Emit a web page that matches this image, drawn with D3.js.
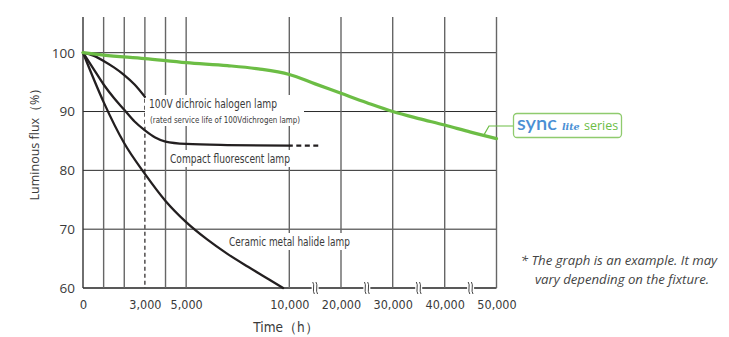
<!DOCTYPE html>
<html>
<head>
<meta charset="utf-8">
<script src="https://cdn.jsdelivr.net/npm/d3@7"></script>
<style>
  body { margin: 0; background: #fff; }
  svg { display: block; }
  .narrow { font-family: "Liberation Sans Narrow", "DejaVu Sans Condensed", "Liberation Sans", sans-serif; }
</style>
</head>
<body>
<div id="chart"></div>
<script>
// values
var xTickHours = [0, 3000, 5000, 10000, 20000, 30000, 40000, 50000];
var xTickLabels = ['0', '3,000', '5,000', '10,000', '20,000', '30,000', '40,000', '50,000'];
var gridHours = [1000, 2000, 4000, 5000, 10000, 20000, 30000, 40000, 50000];
var breakHours = [15000, 25000, 35000, 45000];
var yTicks = [60, 70, 80, 90, 100];

var syncHours = [0, 1000, 3000, 5000, 7000, 8500, 10000, 15000, 20000, 25000, 30000, 35000, 40000, 45000, 50000];
var syncFlux  = [100, 99.6, 99.0, 98.3, 97.8, 97.25, 96.3, 94.7, 93.1, 91.5, 90.0, 88.8, 87.7, 86.5, 85.4];

var halogenHours = [0, 500, 1000, 1500, 2000, 2500, 3000];
var halogenFlux  = [100, 99.5, 98.6, 97.5, 96.2, 94.6, 92.5];

var cflHours = [0, 500, 1000, 1500, 2000, 2500, 3000, 3500, 4000, 5000, 7000, 10000];
var cflFlux  = [100, 97.3, 94.6, 92.3, 90.3, 88.3, 86.8, 85.6, 84.9, 84.5, 84.3, 84.2];
var cflDashHours = [10000, 15600];
var cflDashFlux  = [84.2, 84.2];

var ceramicHours = [0, 1000, 2000, 3000, 4000, 5000, 6000, 7000, 8000, 9000, 9700];
var ceramicFlux  = [100, 91.6, 84.6, 79.4, 74.8, 71.2, 68.3, 65.8, 63.6, 61.5, 60];

var noteLines = ['* The graph is an example. It may', 'vary depending on the fixture.'];

var width = 729, height = 337;
var inkColor = '#231f20', textColor = '#3a3a3a', greenColor = '#6cbd45', blueColor = '#4a8fd4';

var svg = d3.select('#chart')
  .append('svg')
  .attr('width', width)
  .attr('height', height);

// broken time axis: linear to 10,000 then compressed
var x = d3.scaleLinear()
  .domain([0, 10000, 20000, 30000, 40000, 50000])
  .range([83, 289.3, 341, 392.7, 444.7, 496.5]);

var y = d3.scaleLinear()
  .domain([60, 100])
  .range([288, 52.7]);

var topY = 17;

// horizontal grid
svg.append('g').selectAll('line')
  .data(yTicks)
  .enter()
  .append('line')
  .attr('x1', x(0)).attr('x2', x(50000))
  .attr('y1', function(d) { return y(d); })
  .attr('y2', function(d) { return y(d); })
  .attr('stroke', function(d) { return d === 60 ? '#222' : '#2a2a2a'; })
  .attr('stroke-width', function(d) { return d === 60 ? 1.3 : 1; });

// vertical grid
svg.append('g').selectAll('line')
  .data([0].concat(gridHours))
  .enter()
  .append('line')
  .attr('x1', function(d) { return x(d); })
  .attr('x2', function(d) { return x(d); })
  .attr('y1', topY).attr('y2', y(60))
  .attr('stroke', function(d) { return d === 0 ? '#333' : '#666'; })
  .attr('stroke-width', 1.4);

// 3,000 h line: solid above the halogen end, dashed below
svg.append('line')
  .attr('x1', x(3000)).attr('x2', x(3000))
  .attr('y1', topY).attr('y2', y(92.5))
  .attr('stroke', '#666').attr('stroke-width', 1.4);
svg.append('line')
  .attr('x1', x(3000)).attr('x2', x(3000))
  .attr('y1', y(92.5) + 2).attr('y2', y(60))
  .attr('stroke', inkColor).attr('stroke-width', 1.2)
  .attr('stroke-dasharray', '4,3');

// axis break marks
var brk = svg.append('g').selectAll('g')
  .data(breakHours)
  .enter()
  .append('g')
  .attr('transform', function(d) { return 'translate(' + x(d) + ',' + y(60) + ')'; });
brk.append('rect')
  .attr('x', -3.5).attr('y', -2).attr('width', 7).attr('height', 4)
  .attr('fill', '#fff');
[-1.6, 1.6].forEach(function(dx) {
  brk.append('path')
    .attr('d', 'M' + (dx - 0.8) + ',-6 C' + (dx + 1.6) + ',-3 ' + (dx - 1.6) + ',3 ' + (dx + 0.8) + ',6')
    .attr('fill', 'none')
    .attr('stroke', '#444')
    .attr('stroke-width', 1);
});

// axes (labels only)
var xAxis = d3.axisBottom(x)
  .tickValues(xTickHours)
  .tickFormat(function(d, i) { return xTickLabels[i]; })
  .tickSize(0)
  .tickPadding(12);
var gx = svg.append('g')
  .attr('transform', 'translate(0,' + y(60) + ')')
  .call(xAxis);
gx.select('.domain').remove();
gx.selectAll('text')
  .attr('class', 'narrow')
  .attr('font-size', 12.5)
  .attr('fill', textColor);
gx.selectAll('text').filter(function(d) { return d === 0; })
  .attr('font-family', 'Open Sans, sans-serif')
  .attr('font-size', 13);

var yAxis = d3.axisLeft(y)
  .tickValues(yTicks)
  .tickSize(0)
  .tickPadding(8);
var gy = svg.append('g')
  .attr('transform', 'translate(' + x(0) + ',0)')
  .call(yAxis);
gy.select('.domain').remove();
gy.selectAll('text')
  .attr('font-family', 'Open Sans, sans-serif')
  .attr('font-size', 13.5)
  .attr('fill', textColor);

// axis titles
svg.append('text')
  .attr('class', 'narrow')
  .attr('x', 286).attr('y', 332)
  .attr('text-anchor', 'middle')
  .attr('font-size', 13.5)
  .attr('fill', textColor)
  .text('Time（h）');

svg.append('text')
  .attr('transform', 'translate(39,141) rotate(-90)')
  .attr('text-anchor', 'middle')
  .attr('font-family', 'Open Sans, sans-serif')
  .attr('font-size', 12.5)
  .attr('fill', textColor)
  .text('Luminous flux（%）');

// curve labels with white backing; the narrow face is squeezed to the printed width
function label(lines) {
  var g = svg.append('g');
  var bg = g.append('rect').attr('fill', '#fff');
  lines.forEach(function(l) {
    g.append('text')
      .attr('class', 'narrow')
      .attr('x', l.x).attr('y', l.y)
      .attr('font-size', l.size)
      .attr('fill', textColor)
      .attr('textLength', l.w)
      .attr('lengthAdjust', 'spacingAndGlyphs')
      .text(l.text);
  });
  var b = g.node().getBBox();
  var pad = lines[0].pad || 2;
  bg.attr('x', b.x - pad).attr('y', b.y - 1)
    .attr('width', b.width + 2 * pad).attr('height', b.height + 2);
  return g;
}

label([
  {text: '100V dichroic halogen lamp', x: 149, y: 108, size: 12.5, w: 128, pad: 4},
  {text: '(rated service life of 100Vdichrogen lamp)', x: 150, y: 123, size: 9, w: 150}
]);
label([{text: 'Compact fluorescent lamp', x: 170, y: 163, size: 12.5, w: 120}]);
label([{text: 'Ceramic metal halide lamp', x: 229, y: 246, size: 12.5, w: 121}]);

// curves
var line = d3.line()
  .x(function(d) { return x(d[0]); })
  .y(function(d) { return y(d[1]); })
  .curve(d3.curveMonotoneX);

function pairs(hours, flux) {
  return hours.map(function(h, i) { return [h, flux[i]]; });
}

[[halogenHours, halogenFlux], [cflHours, cflFlux], [ceramicHours, ceramicFlux]].forEach(function(s) {
  svg.append('path')
    .attr('d', line(pairs(s[0], s[1])))
    .attr('fill', 'none')
    .attr('stroke', inkColor)
    .attr('stroke-width', 2.3)
    .attr('stroke-linecap', 'round');
});

svg.append('path')
  .attr('d', line(pairs(cflDashHours, cflDashFlux)))
  .attr('fill', 'none')
  .attr('stroke', inkColor)
  .attr('stroke-width', 2.3)
  .attr('stroke-dasharray', '5,3.5')
  .attr('stroke-dashoffset', 1.5);

svg.append('path')
  .attr('d', line(pairs(syncHours, syncFlux)))
  .attr('fill', 'none')
  .attr('stroke', greenColor)
  .attr('stroke-width', 3.2)
  .attr('stroke-linecap', 'round');

// legend callout
var lx = x(47500), ly = y(85.9);
svg.append('path')
  .attr('d', 'M' + lx + ',' + ly + 'L489,126L513,126')
  .attr('fill', 'none')
  .attr('stroke', greenColor)
  .attr('stroke-width', 1.2);

svg.append('rect')
  .attr('x', 513.5).attr('y', 113.5)
  .attr('width', 108).attr('height', 24)
  .attr('rx', 3.5)
  .attr('fill', '#fff')
  .attr('stroke', '#8fcb6e')
  .attr('stroke-width', 1.3);

var leg = svg.append('text').attr('y', 130);
leg.append('tspan')
  .attr('x', 517)
  .attr('font-family', 'Lato, sans-serif')
  .attr('font-weight', 600)
  .attr('font-size', 20)
  .attr('fill', blueColor)
  .text('sync');
leg.append('tspan')
  .attr('x', 562)
  .attr('font-family', '"DejaVu Serif", serif')
  .attr('font-style', 'italic')
  .attr('font-weight', 'bold')
  .attr('font-size', 9.5)
  .attr('fill', blueColor)
  .text('lite');
leg.append('tspan')
  .attr('x', 584)
  .attr('font-family', 'Open Sans, sans-serif')
  .attr('font-size', 12.5)
  .attr('fill', greenColor)
  .text('series');

// note, one text per line
svg.append('g').selectAll('text')
  .data(noteLines)
  .enter()
  .append('text')
  .attr('x', function(d, i) { return i === 0 ? 619 : 622; })
  .attr('y', function(d, i) { return i === 0 ? 265 : 284; })
  .attr('text-anchor', 'middle')
  .attr('font-family', 'Open Sans, sans-serif')
  .attr('font-style', 'italic')
  .attr('font-size', 13.2)
  .attr('fill', '#444')
  .text(function(d) { return d; });
</script>
</body>
</html>
